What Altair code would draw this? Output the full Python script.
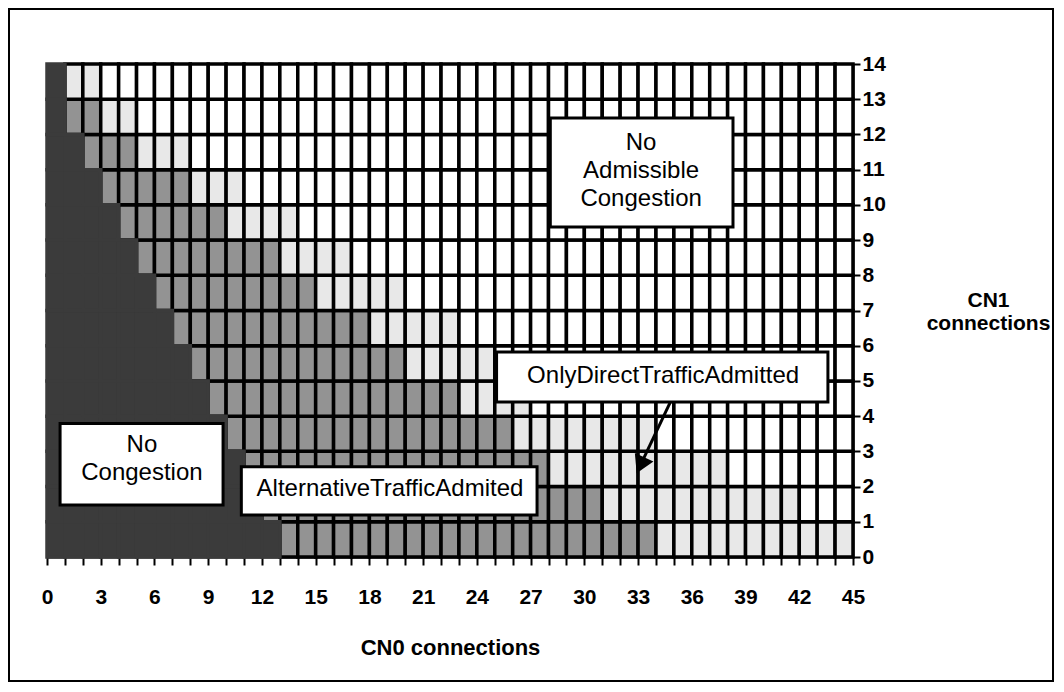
import altair as alt
import pandas as pd

# ---- grid: 45 CN0 columns x 14 CN1 rows ----
n_cols = 45
n_rows = 14
# per row j = 0..13 (bottom to top): first column of each region
alt_start = [13, 12, 11, 10, 9, 8, 7, 6, 5, 4, 3, 2, 1, 1]
direct_start = [34, 31, 28, 26, 23, 20, 18, 15, 13, 10, 8, 5, 3, 1]
none_start = [45, 42, 38, 34, 27, 25, 23, 20, 17, 14, 11, 8, 5, 3]

categories = ["No Congestion", "AlternativeTrafficAdmited",
              "OnlyDirectTrafficAdmitted", "No Admissible Congestion"]
fills = ["#3b3b3b", "#939393", "#e8e8e8", "#ffffff"]
strokes = ["#3b3b3b", "#000000", "#000000", "#000000"]

x_ticks = list(range(0, 46))
y_ticks = list(range(0, 15))

# ---- annotation boxes ----
box_text = ["No\nCongestion", "AlternativeTrafficAdmited",
            "OnlyDirectTrafficAdmitted", "No\nAdmissible\nCongestion"]
box_x0 = [0.73, 10.85, 25.1, 28.1]
box_x1 = [9.83, 27.36, 43.6, 38.3]
box_y0 = [1.48, 1.19, 4.40, 9.37]
box_y1 = [3.79, 2.56, 5.82, 12.47]
# position of the first text line
text_x = [5.3, 19.15, 34.4, 33.17]
text_y = [3.17, 1.93, 5.14, 11.76]

# arrow from the OnlyDirect box to the light area
arrow_x = [34.8, 33.2]
arrow_y = [4.40, 2.68]

rows = []
for j in range(n_rows):
    for i in range(n_cols):
        if i < alt_start[j]:
            k = 0
        elif i < direct_start[j]:
            k = 1
        elif i < none_start[j]:
            k = 2
        else:
            k = 3
        rows.append({"x": i, "x2": i + 1, "y": j, "y2": j + 1,
                     "region": categories[k], "dark": k == 0})
cells = pd.DataFrame(rows)

boxes = pd.DataFrame({"x0": box_x0, "x1": box_x1, "y0": box_y0, "y1": box_y1,
                      "tx": text_x, "ty": text_y, "label": box_text})
arrow = pd.DataFrame({"x": arrow_x, "y": arrow_y, "o": [0, 1]})
head = arrow.iloc[[1]]

FONT = "Liberation Sans"
W, H = 806, 493

xs = alt.Scale(domain=[0, 45], nice=False, zero=False)
ys = alt.Scale(domain=[0, 14], nice=False, zero=False)

xaxis = alt.Axis(values=x_ticks, labelExpr="datum.value % 3 == 0 ? datum.label : ''",
                 grid=False, tickSize=8, tickWidth=2, tickColor="black",
                 domainColor="black", domainWidth=2, labelFont=FONT, labelFontSize=21,
                 labelFontWeight="bold", labelColor="black", labelPadding=21,
                 labelFlush=False, labelOverlap=False, labelBound=False,
                 title="CN0 connections", titleFont=FONT, titleFontSize=22,
                 titleFontWeight="bold", titleColor="black", titlePadding=30)
yaxis = alt.Axis(orient="right", values=y_ticks, grid=False, tickSize=7, tickWidth=2,
                 tickColor="black", domainColor="black", domainWidth=2,
                 labelFont=FONT, labelFontSize=21, labelFontWeight="bold",
                 labelColor="black", labelPadding=2, labelFlush=False, labelOverlap=False,
                 labelBound=False,
                 title=["CN1", "connections"], titleAngle=0, titleFont=FONT,
                 titleFontSize=21, titleFontWeight="bold", titleColor="black",
                 titleX=135, titleY=236, titleAlign="center", titleBaseline="middle",
                 titleLineHeight=23)


def X(field):
    return alt.X(field, scale=xs, axis=xaxis)


def Y(field):
    return alt.Y(field, scale=ys, axis=yaxis)


fill_scale = alt.Scale(domain=categories, range=fills)
stroke_scale = alt.Scale(domain=categories, range=strokes)

light_cells = alt.Chart(cells).transform_filter("!datum.dark").mark_rect(strokeWidth=3.5).encode(
    x=X("x:Q"), x2="x2:Q", y=Y("y:Q"), y2="y2:Q",
    fill=alt.Fill("region:N", scale=fill_scale, legend=None),
    stroke=alt.Stroke("region:N", scale=stroke_scale, legend=None),
)
dark_cells = alt.Chart(cells).transform_filter("datum.dark").mark_rect(strokeWidth=3.5).encode(
    x=X("x:Q"), x2="x2:Q", y=Y("y:Q"), y2="y2:Q",
    fill=alt.Fill("region:N", scale=fill_scale, legend=None),
    stroke=alt.Stroke("region:N", scale=stroke_scale, legend=None),
)

arrow_line = alt.Chart(arrow).mark_line(color="black", strokeWidth=3).encode(
    x=X("x:Q"), y=Y("y:Q"), order="o:Q")
arrow_head = alt.Chart(head).mark_point(shape="triangle", filled=True, color="black",
                                        size=420, angle=205, opacity=1).encode(
    x=X("x:Q"), y=Y("y:Q"))

box_rects = alt.Chart(boxes).mark_rect(fill="white", stroke="black", strokeWidth=3).encode(
    x=X("x0:Q"), x2="x1:Q", y=Y("y0:Q"), y2="y1:Q")
box_labels = alt.Chart(boxes).mark_text(font=FONT, fontSize=24, color="black",
                                        lineBreak="\n", lineHeight=28,
                                        align="center", baseline="middle").encode(
    x=X("tx:Q"), y=Y("ty:Q"), text="label:N")

frame = alt.Chart(boxes.iloc[[0]]).mark_rect(fill="transparent", stroke="black",
                                             strokeWidth=2).encode(
    x=alt.value(-38), x2=alt.value(1006), y=alt.value(-55), y2=alt.value(617))

chart = alt.layer(light_cells, dark_cells, arrow_line, arrow_head,
                  box_rects, box_labels, frame).properties(
    width=W, height=H,
    autosize=alt.AutoSizeParams(type="none"),
    padding={"left": 39, "top": 56, "right": 203, "bottom": 126},
    background="white",
).configure_view(strokeWidth=0)

chart.save("out.html", embed_options={"renderer": "svg", "actions": False})
